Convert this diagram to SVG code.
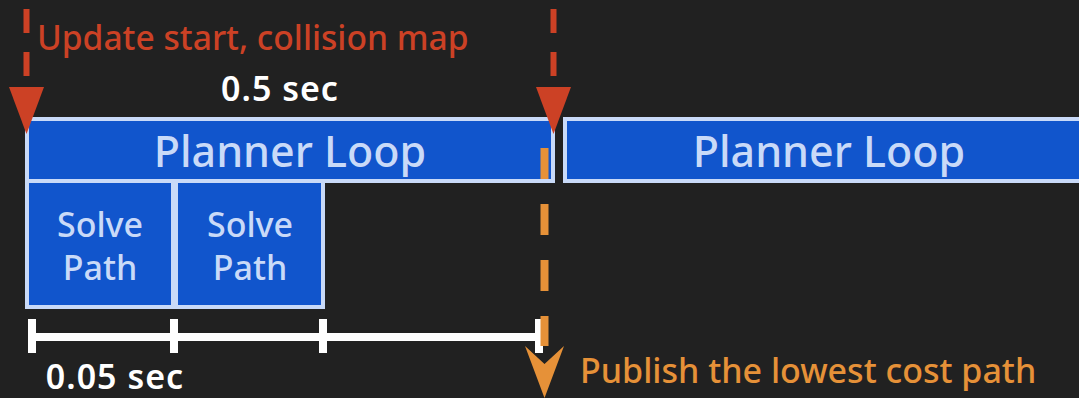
<svg xmlns="http://www.w3.org/2000/svg" width="1079" height="398" viewBox="0 0 1079 398">
  <style>
    .box { fill: #1155cc; stroke: #c9daf8; stroke-width: 4; }
    .boxtext { fill: #c9daf8; font-family: "Noto Sans", "Open Sans", sans-serif; font-weight: 500; text-anchor: middle; }
    .loop { font-size: 43px; }
    .solve { font-size: 34px; }
    .red { stroke: #cc4125; stroke-width: 6; stroke-dasharray: 24 19; fill: none; }
    .orange { stroke: #e69138; stroke-width: 8; stroke-dasharray: 31 25; fill: none; }
    .ruler { stroke: #ffffff; stroke-width: 8; fill: none; }
    .label { font-family: "Noto Sans", "Open Sans", sans-serif; font-weight: 500; }
    .white { fill: #ffffff; font-weight: 600; font-size: 34px; letter-spacing: 1px; }
  </style>
  <defs>
    <marker id="redHead" markerUnits="userSpaceOnUse" viewBox="0 -17.5 47 35" markerWidth="47" markerHeight="35" refX="0" refY="0" orient="auto">
      <path d="M0,-17.5 L47,0 L0,17.5 Z" fill="#cc4125"/>
    </marker>
    <marker id="orangeHead" markerUnits="userSpaceOnUse" viewBox="0 -19.5 52 39" markerWidth="52" markerHeight="39" refX="0" refY="0" orient="auto">
      <path d="M0,-19.5 L52,0 L0,19.5 L18,0 Z" fill="#e69138"/>
    </marker>
  </defs>

  <rect width="1079" height="398" fill="#212121"/>

  <!-- planner loops -->
  <g id="planner-loop-1">
    <rect class="box" x="27" y="119" width="526" height="62"/>
    <text class="boxtext loop" x="290" y="167">Planner Loop</text>
  </g>
  <g id="planner-loop-2">
    <rect class="box" x="565" y="119" width="526" height="62"/>
    <text class="boxtext loop" x="829" y="167">Planner Loop</text>
  </g>

  <!-- path solves inside the first loop -->
  <g id="solve-path-1">
    <rect class="box" x="27" y="181" width="146" height="126"/>
    <text class="boxtext solve" x="100" y="237">Solve</text>
    <text class="boxtext solve" x="100" y="280">Path</text>
  </g>
  <g id="solve-path-2">
    <rect class="box" x="176" y="181" width="147" height="126"/>
    <text class="boxtext solve" x="250" y="237">Solve</text>
    <text class="boxtext solve" x="250" y="280">Path</text>
  </g>

  <g id="connectors">
    <!-- time ruler -->
    <path class="ruler" d="M32,337 H539 M32,319 V353 M174,319 V353 M323,319 V353 M539,319 V353"/>
    <!-- publish marker -->
    <path class="orange" d="M544.5,148 V346" marker-end="url(#orangeHead)"/>
    <!-- update markers -->
    <path class="red" d="M26.5,9 V87" marker-end="url(#redHead)"/>
    <path class="red" d="M553.5,9 V87" marker-end="url(#redHead)"/>
  </g>

  <g id="labels">
    <text class="label" x="37" y="50" font-size="33.6" fill="#cc4125">Update start, collision map</text>
    <text class="label white" x="280" y="101" text-anchor="middle">0.5 sec</text>
    <text class="label white" x="115" y="389" text-anchor="middle">0.05 sec</text>
    <text class="label" x="580" y="383" font-size="34" fill="#e69138">Publish the lowest cost path</text>
  </g>
</svg>
